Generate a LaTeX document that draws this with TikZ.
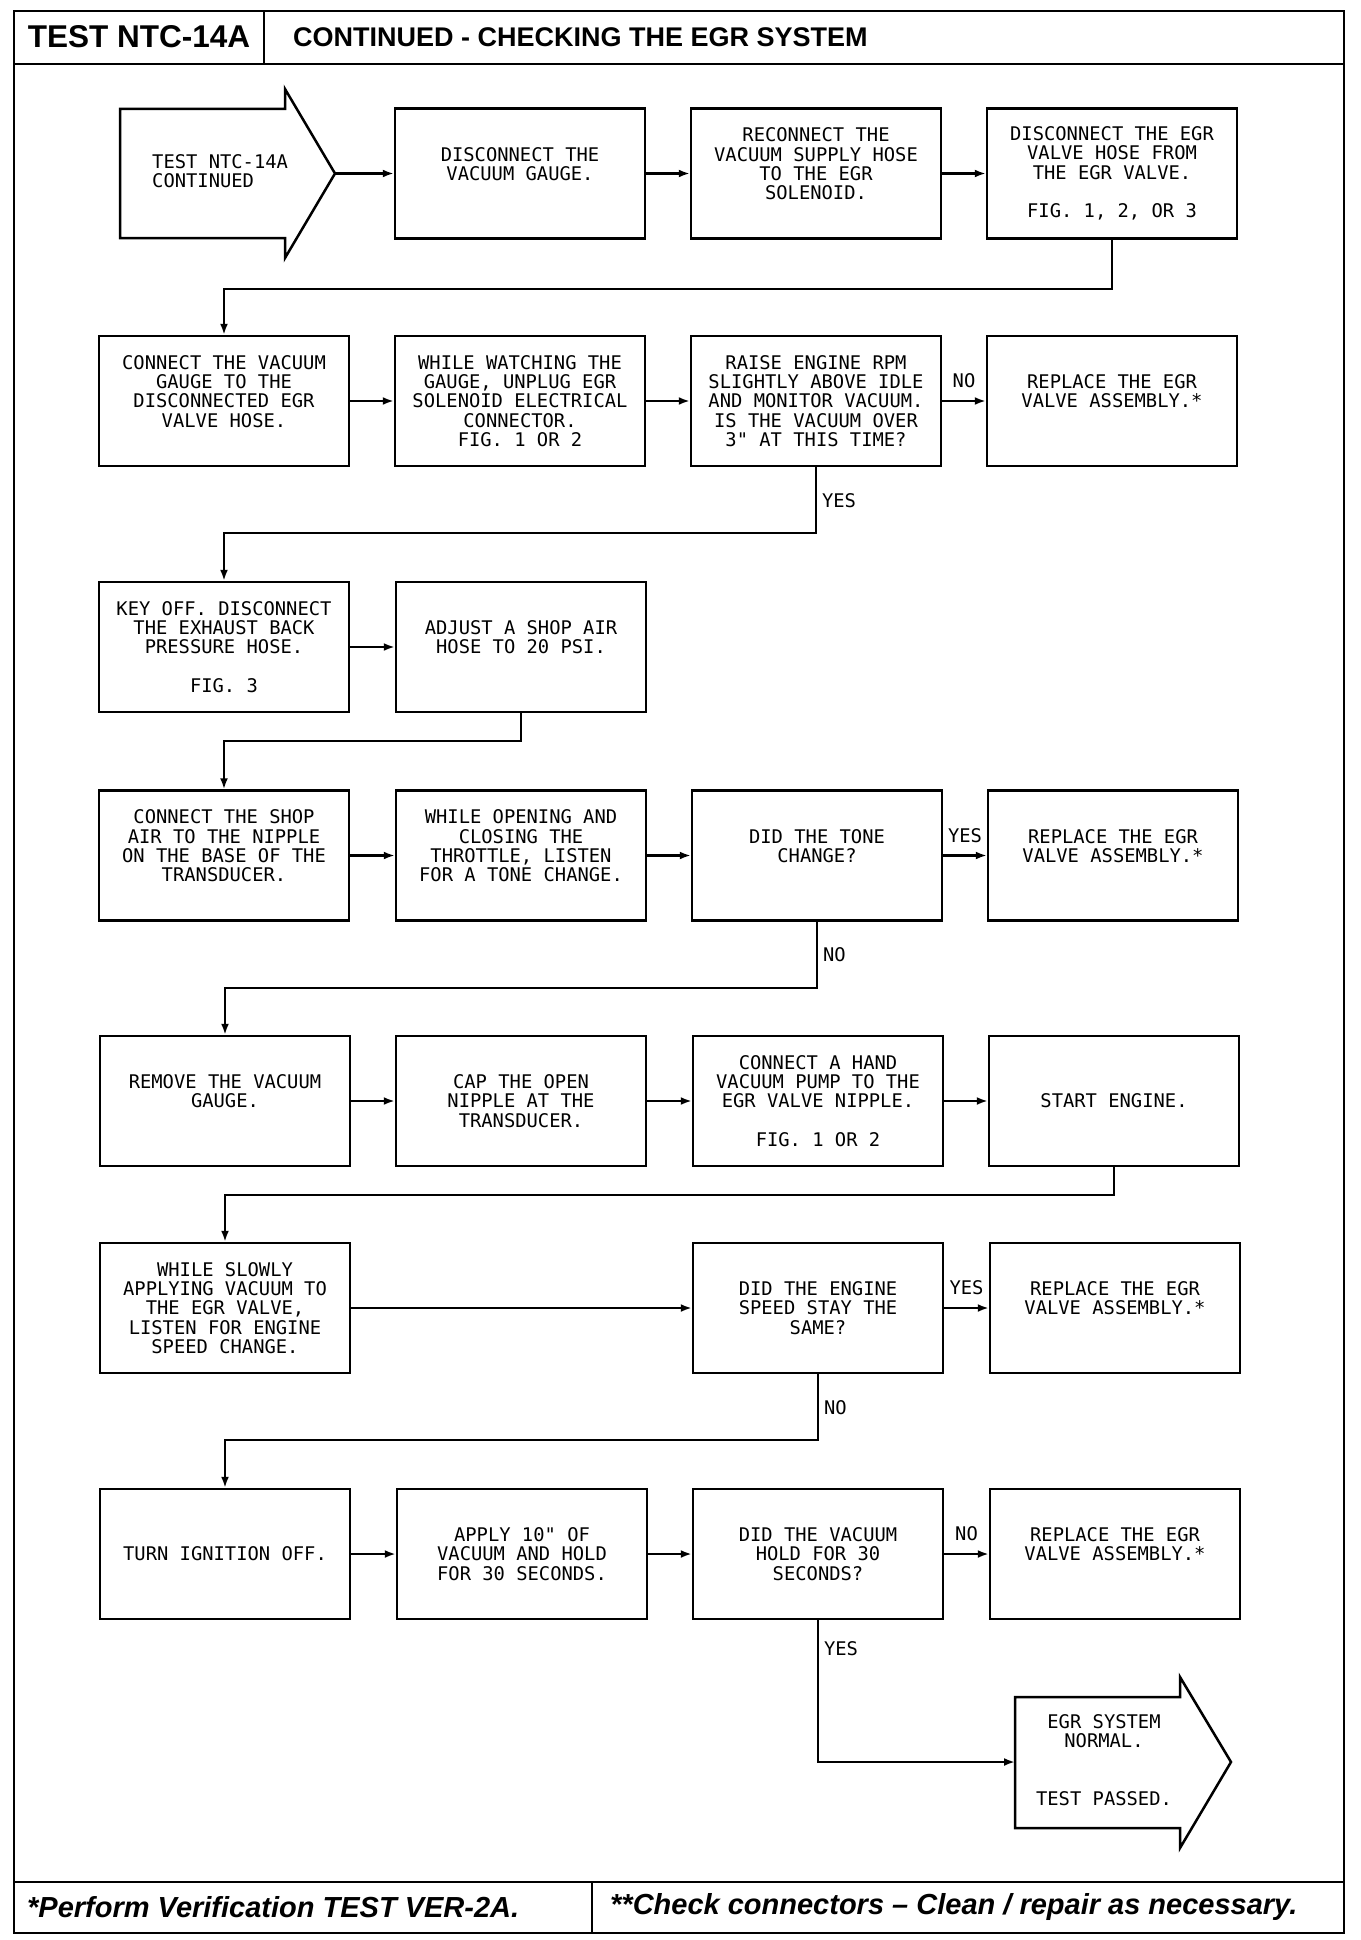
\documentclass[tikz,border=0pt]{standalone}
\usepackage{fontspec}
\usepackage{tikz}
\usetikzlibrary{calc,arrows,arrows.meta,positioning}
\newfontfamily\plotfont{DejaVu Sans Mono}
\newfontfamily\headfont{Liberation Sans}
\newcommand\flowfont{\plotfont\fontsize{18.8}{19.3}\selectfont}
\tikzset{
  stepbox/.style={draw,line width=2.5pt,minimum width=250pt,minimum height=130pt,inner sep=0pt,align=center,font=\flowfont},
  conn/.style={line width=2.2pt,-{Latex[length=11pt,width=8pt]}},
  lab/.style={font=\flowfont,inner sep=0pt},
  frame/.style={line width=2pt},
}

\begin{document}
\begin{tikzpicture}[x=1pt,y=-1pt]
    \useasboundingbox (0,0) rectangle (1360,1940);
    \draw[frame] (14,11) rectangle (1344,1933);
    \draw[frame] (14,64) -- (1344,64);
    \draw[frame] (264,11) -- (264,64);
    \draw[frame] (14,1882) -- (1344,1882);
    \draw[frame] (592,1882) -- (592,1933);
    \node[inner sep=0pt,font=\headfont\fontsize{31.5}{32}\selectfont\bfseries] (title) at (139,37) {TEST NTC-14A};
    \node[inner sep=0pt,anchor=west,font=\headfont\fontsize{27}{28}\selectfont\bfseries] (subtitle) at (293,37) {CONTINUED - CHECKING THE EGR SYSTEM};
    \node[inner sep=0pt,anchor=west,font=\headfont\fontsize{29}{30}\selectfont\bfseries\itshape] (note1) at (27,1907) {*Perform Verification TEST VER-2A.};
    \node[inner sep=0pt,anchor=west,font=\headfont\fontsize{29}{30}\selectfont\bfseries\itshape] (note2) at (610,1907) {**Check connectors – Clean / repair as necessary.};

    \draw[line width=2.5pt] (120,109) -- (285,109) -- (285,89) -- (335,173.5) -- (285,258) -- (285,238) -- (120,238) -- cycle;
    \coordinate (starttip) at (335,173.5);
    \node[lab,align=left,anchor=west] (start) at (152,171) {TEST NTC-14A\\CONTINUED};

    \node[stepbox] (r1b) at (520,173.5) {DISCONNECT THE\\VACUUM GAUGE.\\~};
    \node[stepbox] (r1c) at (816,173.5) {RECONNECT THE\\VACUUM SUPPLY HOSE\\TO THE EGR\\SOLENOID.\\~};
    \node[stepbox] (r1d) at (1112,173.5) {DISCONNECT THE EGR\\VALVE HOSE FROM\\THE EGR VALVE.\\~\\FIG. 1, 2, OR 3};

    \node[stepbox] (r2a) at (224,401) {CONNECT THE VACUUM\\GAUGE TO THE\\DISCONNECTED EGR\\VALVE HOSE.\\~};
    \node[stepbox] (r2b) at (520,401) {WHILE WATCHING THE\\GAUGE, UNPLUG EGR\\SOLENOID ELECTRICAL\\CONNECTOR.\\FIG. 1 OR 2};
    \node[stepbox] (r2c) at (816,401) {RAISE ENGINE RPM\\SLIGHTLY ABOVE IDLE\\AND MONITOR VACUUM.\\IS THE VACUUM OVER\\3" AT THIS TIME?};
    \node[stepbox] (r2d) at (1112,401) {REPLACE THE EGR\\VALVE ASSEMBLY.*\\~};

    \node[stepbox] (r3a) at (224,647) {KEY OFF. DISCONNECT\\THE EXHAUST BACK\\PRESSURE HOSE.\\~\\FIG. 3};
    \node[stepbox] (r3b) at (521,647) {ADJUST A SHOP AIR\\HOSE TO 20 PSI.\\~};

    \node[stepbox] (r4a) at (224,855.5) {CONNECT THE SHOP\\AIR TO THE NIPPLE\\ON THE BASE OF THE\\TRANSDUCER.\\~};
    \node[stepbox] (r4b) at (521,855.5) {WHILE OPENING AND\\CLOSING THE\\THROTTLE, LISTEN\\FOR A TONE CHANGE.\\~};
    \node[stepbox] (r4c) at (817,855.5) {DID THE TONE\\CHANGE?\\~};
    \node[stepbox] (r4d) at (1113,855.5) {REPLACE THE EGR\\VALVE ASSEMBLY.*\\~};

    \node[stepbox] (r5a) at (225,1101) {REMOVE THE VACUUM\\GAUGE.\\~};
    \node[stepbox] (r5b) at (521,1101) {CAP THE OPEN\\NIPPLE AT THE\\TRANSDUCER.};
    \node[stepbox] (r5c) at (818,1101) {CONNECT A HAND\\VACUUM PUMP TO THE\\EGR VALVE NIPPLE.\\~\\FIG. 1 OR 2};
    \node[stepbox] (r5d) at (1114,1101) {START ENGINE.};

    \node[stepbox] (r6a) at (225,1308) {WHILE SLOWLY\\APPLYING VACUUM TO\\THE EGR VALVE,\\LISTEN FOR ENGINE\\SPEED CHANGE.};
    \node[stepbox] (r6c) at (818,1308) {DID THE ENGINE\\SPEED STAY THE\\SAME?};
    \node[stepbox] (r6d) at (1115,1308) {REPLACE THE EGR\\VALVE ASSEMBLY.*\\~};

    \node[stepbox] (r7a) at (225,1554) {TURN IGNITION OFF.};
    \node[stepbox] (r7b) at (522,1554) {APPLY 10" OF\\VACUUM AND HOLD\\FOR 30 SECONDS.};
    \node[stepbox] (r7c) at (818,1554) {DID THE VACUUM\\HOLD FOR 30\\SECONDS?};
    \node[stepbox] (r7d) at (1115,1554) {REPLACE THE EGR\\VALVE ASSEMBLY.*\\~};

    \draw[line width=2.5pt] (1015,1697) -- (1180,1697) -- (1180,1677) -- (1231,1762) -- (1180,1848) -- (1180,1828) -- (1015,1828) -- cycle;
    \coordinate (endin) at (1015,1762);
    \node[lab,align=center] (passed) at (1104,1760) {EGR SYSTEM\\NORMAL.\\~\\~\\TEST PASSED.};

    \draw[conn] (starttip) -- (r1b);
    \draw[conn] (r1b) -- (r1c);
    \draw[conn] (r1c) -- (r1d);
    \draw[conn] (r1d.south) -- ++(0,49) -| (r2a.north);

    \draw[conn] (r2a) -- (r2b);
    \draw[conn] (r2b) -- (r2c);
    \draw[conn] (r2c) -- node[lab,above=12pt]{NO} (r2d);
    \draw[conn] (r2c.south) -- node[lab,right=5pt]{YES} ++(0,66) -| (r3a.north);

    \draw[conn] (r3a) -- (r3b);
    \draw[conn] (r3b.south) -- ++(0,28) -| (r4a.north);

    \draw[conn] (r4a) -- (r4b);
    \draw[conn] (r4b) -- (r4c);
    \draw[conn] (r4c) -- node[lab,above=12pt]{YES} (r4d);
    \draw[conn] (r4c.south) -- node[lab,right=5pt]{NO} ++(0,66) -| (r5a.north);

    \draw[conn] (r5a) -- (r5b);
    \draw[conn] (r5b) -- (r5c);
    \draw[conn] (r5c) -- (r5d);
    \draw[conn] (r5d.south) -- ++(0,28) -| (r6a.north);

    \draw[conn] (r6a) -- (r6c);
    \draw[conn] (r6c) -- node[lab,above=12pt]{YES} (r6d);
    \draw[conn] (r6c.south) -- node[lab,right=5pt]{NO} ++(0,66) -| (r7a.north);

    \draw[conn] (r7a) -- (r7b);
    \draw[conn] (r7b) -- (r7c);
    \draw[conn] (r7c) -- node[lab,above=12pt]{NO} (r7d);
    \draw[conn] (r7c.south) -- node[lab,right=5pt,pos=0.2]{YES} (r7c.south |- endin) -- (endin);
\end{tikzpicture}
\end{document}
